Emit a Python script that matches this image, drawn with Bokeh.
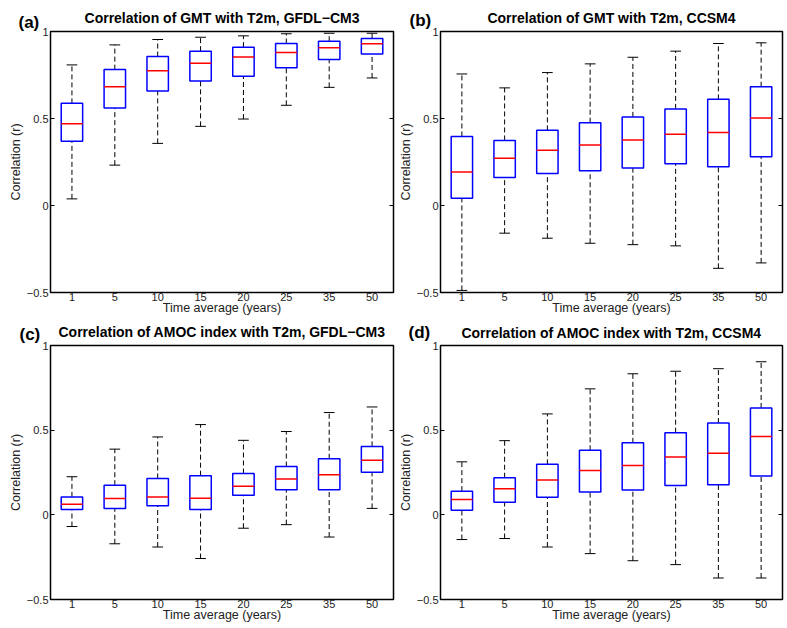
from bokeh.plotting import figure
from bokeh.models import ColumnDataSource, FixedTicker, LinearAxis, Range1d, Title
from bokeh.layouts import gridplot
from bokeh.transform import dodge
from bokeh.embed import file_html
from bokeh.resources import INLINE

# ---------------- data ----------------
cats = ["1", "5", "10", "15", "20", "25", "35", "50"]
yticks = [-0.5, 0.0, 0.5, 1.0]
ytick_labels = ["\u22120.5", "0", "0.5", "1"]

titles = [
    "Correlation of GMT with T2m, GFDL\u2212CM3",
    "Correlation of GMT with T2m, CCSM4",
    "Correlation of AMOC index with T2m, GFDL\u2212CM3",
    "Correlation of AMOC index with T2m, CCSM4",
]
tags = ["(a)", "(b)", "(c)", "(d)"]

a_lo = [0.038, 0.232, 0.357, 0.455, 0.497, 0.576, 0.679, 0.733]
a_q1 = [0.369, 0.560, 0.658, 0.716, 0.743, 0.791, 0.839, 0.871]
a_med = [0.470, 0.683, 0.774, 0.818, 0.854, 0.879, 0.906, 0.929]
a_q3 = [0.587, 0.781, 0.856, 0.887, 0.910, 0.931, 0.944, 0.960]
a_hi = [0.808, 0.923, 0.954, 0.967, 0.975, 0.987, 0.990, 0.990]

b_lo = [-0.488, -0.159, -0.188, -0.217, -0.225, -0.232, -0.361, -0.330]
b_q1 = [0.042, 0.161, 0.184, 0.200, 0.215, 0.240, 0.223, 0.280]
b_med = [0.192, 0.271, 0.317, 0.347, 0.376, 0.409, 0.420, 0.503]
b_q3 = [0.397, 0.374, 0.432, 0.476, 0.509, 0.555, 0.610, 0.683]
b_hi = [0.756, 0.676, 0.764, 0.814, 0.852, 0.887, 0.931, 0.935]

c_lo = [-0.069, -0.171, -0.190, -0.258, -0.079, -0.058, -0.131, 0.038]
c_q1 = [0.031, 0.037, 0.054, 0.031, 0.115, 0.148, 0.148, 0.252]
c_med = [0.063, 0.096, 0.106, 0.098, 0.169, 0.212, 0.237, 0.323]
c_q3 = [0.106, 0.175, 0.215, 0.231, 0.244, 0.285, 0.331, 0.404]
c_hi = [0.225, 0.388, 0.460, 0.533, 0.440, 0.492, 0.604, 0.637]

d_lo = [-0.146, -0.140, -0.190, -0.229, -0.271, -0.294, -0.373, -0.373]
d_q1 = [0.027, 0.075, 0.104, 0.135, 0.146, 0.173, 0.177, 0.229]
d_med = [0.090, 0.154, 0.206, 0.262, 0.292, 0.342, 0.363, 0.462]
d_q3 = [0.140, 0.219, 0.298, 0.381, 0.425, 0.485, 0.542, 0.631]
d_hi = [0.313, 0.438, 0.596, 0.744, 0.833, 0.848, 0.863, 0.904]

FONT = "Liberation Sans"
H_TAG = 19.0    # approx. text box height of the panel tag
H_MAIN = 16.0   # approx. text box height of the title


def make_panel(tag, title, lo, q1, med, q3, hi, width, height,
               mb_left, mb_right, mb_top, mb_bottom, tag_dx, tag_up, title_up):
    xs = list(range(1, len(cats) + 1))
    src = ColumnDataSource(dict(x=xs, lo=lo, q1=q1, med=med, q3=q3, hi=hi))
    p = figure(width=width, height=height,
               x_range=Range1d(0.5, len(cats) + 0.5),
               y_range=Range1d(-0.5, 1.0),
               output_backend="svg", toolbar_location=None,
               min_border_left=mb_left, min_border_right=mb_right,
               min_border_top=mb_top, min_border_bottom=mb_bottom,
               background_fill_color="white", border_fill_color="white")
    p.xgrid.visible = False
    p.ygrid.visible = False
    p.outline_line_color = "black"
    p.outline_line_width = 1.5

    # panel tag: inner "above" title, its centre tag_up px above the frame
    s_tag = 2 * (tag_up - H_TAG / 2)
    p.add_layout(Title(text=tag, align="left", offset=tag_dx, standoff=s_tag,
                       vertical_align="bottom", text_font=FONT,
                       text_font_size="17px", text_font_style="bold",
                       text_color="black"), "above")
    # main title: outer, pulled down onto the same row as the tag
    size_tag = 2 + H_TAG + s_tag
    s_main = 2 * (title_up - H_MAIN / 2 - size_tag)
    p.title.text = title
    p.title.align = "center"
    p.title.vertical_align = "bottom"
    p.title.text_font = FONT
    p.title.text_font_size = "14px"
    p.title.text_font_style = "bold"
    p.title.text_color = "black"
    p.title.standoff = s_main

    # x axis
    xa = p.xaxis[0]
    xa.ticker = FixedTicker(ticks=xs)
    xa.major_label_overrides = {x: c for x, c in zip(xs, cats)}
    xa.major_tick_in = 0
    xa.major_tick_out = 0
    xa.minor_tick_line_color = None
    xa.axis_line_color = None
    xa.major_label_standoff = 0
    xa.major_label_text_font = FONT
    xa.major_label_text_font_size = "11px"
    xa.major_label_text_color = "#222222"
    xa.axis_label = "Time average (years)"
    xa.axis_label_text_font = FONT
    xa.axis_label_text_font_size = "12.5px"
    xa.axis_label_text_font_style = "normal"
    xa.axis_label_text_color = "#222222"
    xa.axis_label_standoff = -3

    # y axis
    ya = p.yaxis[0]
    ya.ticker = FixedTicker(ticks=yticks)
    ya.major_label_overrides = {t: l for t, l in zip(yticks, ytick_labels)}
    ya.major_tick_in = 4
    ya.major_tick_out = 0
    ya.minor_tick_line_color = None
    ya.axis_line_color = None
    ya.major_label_standoff = 2
    ya.major_label_text_font = FONT
    ya.major_label_text_font_size = "11px"
    ya.major_label_text_color = "#222222"
    ya.axis_label = "Correlation (r)"
    ya.axis_label_text_font = FONT
    ya.axis_label_text_font_size = "12.5px"
    ya.axis_label_text_font_style = "normal"
    ya.axis_label_text_color = "#222222"
    ya.axis_label_standoff = 1

    # mirror ticks on the right (labels not drawn)
    ra = LinearAxis(ticker=FixedTicker(ticks=yticks),
                    major_label_text_color=None,
                    major_label_standoff=0,
                    major_tick_in=4, major_tick_out=0,
                    minor_tick_line_color=None, axis_line_color=None)
    p.add_layout(ra, "right")

    # whiskers
    p.segment(x0="x", y0="q3", x1="x", y1="hi", source=src,
              line_color="black", line_width=1, line_dash="5 3")
    p.segment(x0="x", y0="lo", x1="x", y1="q1", source=src,
              line_color="black", line_width=1, line_dash="5 3")
    # caps
    p.segment(x0=dodge("x", -0.125), y0="hi", x1=dodge("x", 0.125), y1="hi",
              source=src, line_color="black", line_width=1)
    p.segment(x0=dodge("x", -0.125), y0="lo", x1=dodge("x", 0.125), y1="lo",
              source=src, line_color="black", line_width=1)
    # boxes
    p.vbar(x="x", width=0.5, bottom="q1", top="q3", source=src,
           fill_color="white", line_color="#0000ff", line_width=1.5)
    # medians
    p.segment(x0=dodge("x", -0.25), y0="med", x1=dodge("x", 0.25), y1="med",
              source=src, line_color="#ff0000", line_width=1.5)
    return p


pa = make_panel(tags[0], titles[0], a_lo, a_q1, a_med, a_q3, a_hi,
                395, 317, 50, 2, 31, 25, -32, 9, 14)
pb = make_panel(tags[1], titles[1], b_lo, b_q1, b_med, b_q3, b_hi,
                392, 317, 44, 5, 31, 25, -31, 11, 14)
pc = make_panel(tags[2], titles[2], c_lo, c_q1, c_med, c_q3, c_hi,
                395, 311, 50, 2, 22, 29, -31, 11, 14)
pd = make_panel(tags[3], titles[3], d_lo, d_q1, d_med, d_q3, d_hi,
                392, 311, 44, 5, 23, 28, -32, 13, 13)

grid = gridplot([[pa, pb], [pc, pd]], toolbar_location=None)

open("out.html", "w").write(file_html(grid, INLINE))
